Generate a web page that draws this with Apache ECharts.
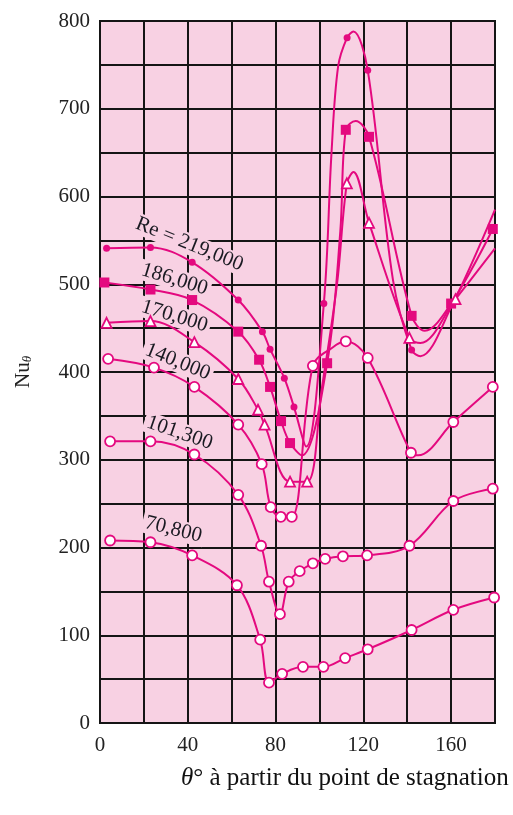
<!DOCTYPE html>
<html>
<head>
<meta charset="utf-8">
<title>Nu_θ autour d'un cylindre</title>
<script src="https://cdn.jsdelivr.net/npm/echarts@6/dist/echarts.min.js"></script>
<style>
  html, body { margin: 0; padding: 0; background: #ffffff; }
  #chart { width: 513px; height: 815px; }
</style>
</head>
<body>
<div id="chart"></div>
<script>
// Axis ranges and tick labels
const xRange = [0, 180];
const xStep = 20;
const yRange = [0, 800];
const yStep = 50;
const xLabelTicks = [0, 40, 80, 120, 160];
const yLabelTicks = [0, 100, 200, 300, 400, 500, 600, 700, 800];

// Local Nusselt number vs. angle from the stagnation point.
// "Marks" are measured points (drawn with a symbol);
// "Bends" are points on the faired curve between measurements (no symbol).
const re219Marks = [[3, 541], [23, 542], [42, 525], [63, 482], [74, 446], [77.5, 426], [84, 393], [88.4, 360], [102, 478], [112.6, 781], [122, 744], [142, 425]];
const re219Bends = [[94, 315], [105.5, 650], [108.5, 748], [115.5, 788], [133.5, 505], [146, 418], [160, 474], [180, 585]];

const re186Marks = [[2, 502], [23, 494], [42, 482], [63, 446], [72.5, 414], [77.5, 383], [82.5, 344], [86.6, 319], [103.5, 410], [112, 676], [122.6, 668], [142, 464], [160, 478], [179, 563]];
const re186Bends = [[92, 305], [109.5, 560], [116.5, 686], [148, 447]];

const re170Marks = [[3, 456], [23, 458], [43, 434], [63, 392], [72, 357], [75, 340], [86.6, 275], [94.4, 275], [112.5, 615], [122.6, 570], [141, 439], [162, 483]];
const re170Bends = [[101, 380], [108, 500], [115.5, 628], [146, 433], [180, 541]];

const re140Marks = [[3.7, 415], [24.6, 405], [43, 383], [63, 340], [73.7, 295], [77.8, 246], [82.4, 235], [87.4, 235], [97, 407], [112, 435], [122, 416], [141.7, 308], [161, 343], [179, 383]];
const re140Bends = [[106, 428], [145, 305]];

const re101Marks = [[4.6, 321], [23, 321], [43, 306], [63, 260], [73.4, 202], [77, 161], [82, 124], [86, 161], [91, 173], [97, 182], [102.6, 187], [110.7, 190], [121.7, 191], [141, 202], [161, 253], [179, 267]];
const re101Bends = [];

const re70Marks = [[4.6, 208], [23, 206], [42, 191], [62.4, 157], [73, 95], [77, 46], [83, 56], [92.5, 64], [101.8, 64], [111.7, 74], [122, 84], [142, 106], [161, 129], [179.6, 143]];
const re70Bends = [];

// Curve captions: text, anchor [θ, Nu] and slant
const captionTexts = ['Re = 219,000', '186,000', '170,000', '140,000', '101,300', '70,800'];
const captionAnchors = [[41, 545], [34.2, 505], [34.2, 463], [35.6, 411], [36.5, 330], [33.7, 220]];
const captionAngles = [-22, -17, -17, -22, -19, -14];

const MAGENTA = '#e4097f';
const PINK = '#f8d1e3';
const INK = '#151515';

function mergeCurve(marks, bends) {
  return marks.map(p => ({ value: p }))
    .concat(bends.map(p => ({ value: p, symbol: 'none' })))
    .sort((a, b) => a.value[0] - b.value[0]);
}

function curveSeries(name, marks, bends, symbol, size, filled) {
  return {
    name: name,
    type: 'line',
    data: mergeCurve(marks, bends),
    smooth: 0.35,
    symbol: symbol,
    symbolSize: size,
    showAllSymbol: true,
    z: 3,
    lineStyle: { color: MAGENTA, width: 2 },
    itemStyle: {
      color: filled ? MAGENTA : '#ffffff',
      borderColor: MAGENTA,
      borderWidth: filled ? 0 : 1.8
    },
    emphasis: { disabled: true },
    animation: false
  };
}

const chart = echarts.init(document.getElementById('chart'), null, { renderer: 'canvas' });

const option = {
  animation: false,
  backgroundColor: '#ffffff',
  title: {
    left: 176,
    top: 761,
    text: '{t|θ}{d|°} à partir du point de stagnation',
    textStyle: {
      fontFamily: 'Liberation Serif',
      fontSize: 25,
      fontWeight: 'normal',
      color: '#111',
      rich: {
        t: { fontFamily: 'Liberation Serif', fontStyle: 'italic', fontSize: 25, color: '#111' },
        d: { fontFamily: 'Liberation Serif', fontSize: 25, color: '#111' }
      }
    }
  },
  grid: {
    left: 100,
    top: 21,
    width: 395,
    height: 702,
    show: true,
    backgroundColor: PINK,
    borderColor: INK,
    borderWidth: 2
  },
  xAxis: {
    type: 'value',
    min: xRange[0],
    max: xRange[1],
    interval: xStep,
    axisLine: { show: true, lineStyle: { color: INK, width: 2 } },
    axisTick: { show: false },
    splitLine: { show: true, lineStyle: { color: INK, width: 2 } },
    axisLabel: {
      margin: 12,
      fontFamily: 'Liberation Serif',
      fontSize: 21,
      color: '#222',
      formatter: v => (xLabelTicks.includes(v) ? String(v) : '')
    }
  },
  yAxis: {
    type: 'value',
    min: yRange[0],
    max: yRange[1],
    interval: yStep,
    name: '{n|Nu}{s|θ}',
    nameLocation: 'middle',
    nameRotate: 90,
    nameGap: 66,
    nameTextStyle: {
      rich: {
        n: { fontFamily: 'Liberation Serif', fontSize: 21, color: '#222' },
        s: { fontFamily: 'Liberation Serif', fontStyle: 'italic', fontSize: 13, color: '#222', verticalAlign: 'bottom', padding: [8, 0, 0, 0] }
      }
    },
    axisLine: { show: true, lineStyle: { color: INK, width: 2 } },
    axisTick: { show: false },
    splitLine: { show: true, lineStyle: { color: INK, width: 2 } },
    axisLabel: {
      margin: 10,
      fontFamily: 'Liberation Serif',
      fontSize: 21,
      color: '#222',
      formatter: v => (yLabelTicks.includes(v) ? String(v) : '')
    }
  },
  series: [
    {
      name: 'captions',
      type: 'scatter',
      z: 2,
      symbolSize: 1,
      itemStyle: { color: 'rgba(0,0,0,0)' },
      silent: true,
      data: captionTexts.map((t, i) => ({
        name: t,
        value: captionAnchors[i],
        label: { rotate: captionAngles[i] }
      })),
      label: {
        show: true,
        position: [0, 0],
        formatter: p => p.name,
        fontFamily: 'Liberation Serif',
        fontSize: 21,
        color: '#1a1a22',
        opacity: 1,
        textBorderWidth: 0,
        backgroundColor: PINK,
        padding: [0, 3],
        align: 'center',
        verticalAlign: 'middle'
      }
    },
    curveSeries('Re = 219,000', re219Marks, re219Bends, 'circle', 7, true),
    curveSeries('Re = 186,000', re186Marks, re186Bends, 'rect', 10, true),
    curveSeries('Re = 170,000', re170Marks, re170Bends, 'triangle', 10, false),
    curveSeries('Re = 140,000', re140Marks, re140Bends, 'circle', 10, false),
    curveSeries('Re = 101,300', re101Marks, re101Bends, 'circle', 10, false),
    curveSeries('Re = 70,800', re70Marks, re70Bends, 'circle', 10, false)
  ]
};

chart.setOption(option);
</script>
</body>
</html>
